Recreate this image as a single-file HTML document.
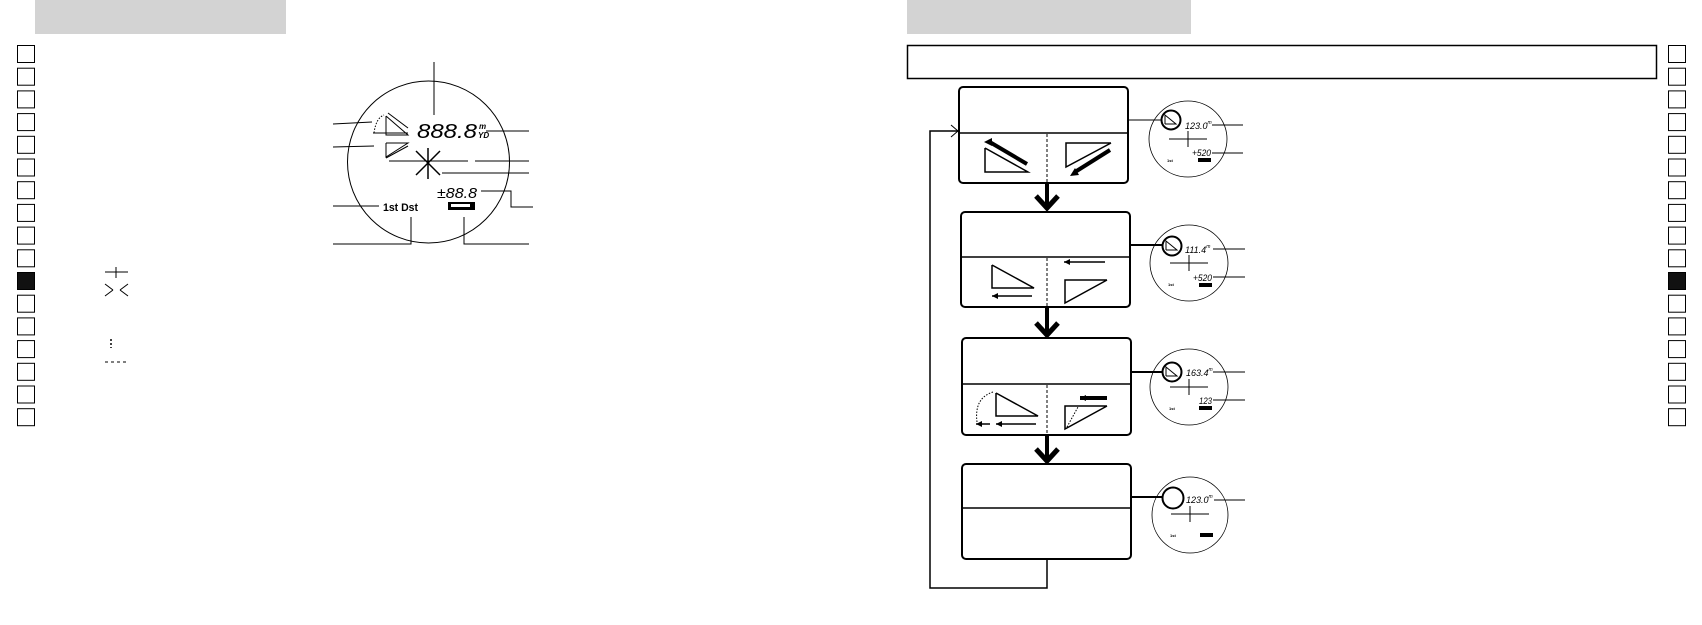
<!DOCTYPE html>
<html><head><meta charset="utf-8"><style>
html,body{margin:0;padding:0;background:#fff;}
body{width:1702px;height:625px;position:relative;overflow:hidden;font-family:"Liberation Sans",sans-serif;}
svg{position:absolute;left:0;top:0;}
.lcd{font-family:"Liberation Sans",sans-serif;font-style:italic;}
</style></head><body>
<svg width="1702" height="625" viewBox="0 0 1702 625" xmlns="http://www.w3.org/2000/svg">
<rect x="35" y="0" width="251" height="34" fill="#d3d3d3"/>
<rect x="907" y="0" width="284" height="34" fill="#d3d3d3"/>
<g fill="none" stroke="#000" stroke-width="1">
<rect x="17.5" y="45.5" width="17" height="17"/><rect x="17.5" y="68.2" width="17" height="17"/><rect x="17.5" y="90.9" width="17" height="17"/><rect x="17.5" y="113.6" width="17" height="17"/><rect x="17.5" y="136.3" width="17" height="17"/><rect x="17.5" y="159" width="17" height="17"/><rect x="17.5" y="181.7" width="17" height="17"/><rect x="17.5" y="204.4" width="17" height="17"/><rect x="17.5" y="227.1" width="17" height="17"/><rect x="17.5" y="249.8" width="17" height="17"/><rect x="17.5" y="272.5" width="17" height="17" fill="#111"/><rect x="17.5" y="295.2" width="17" height="17"/><rect x="17.5" y="317.9" width="17" height="17"/><rect x="17.5" y="340.6" width="17" height="17"/><rect x="17.5" y="363.3" width="17" height="17"/><rect x="17.5" y="386" width="17" height="17"/><rect x="17.5" y="408.7" width="17" height="17"/>
<rect x="1668.5" y="45.5" width="17" height="17"/><rect x="1668.5" y="68.2" width="17" height="17"/><rect x="1668.5" y="90.9" width="17" height="17"/><rect x="1668.5" y="113.6" width="17" height="17"/><rect x="1668.5" y="136.3" width="17" height="17"/><rect x="1668.5" y="159" width="17" height="17"/><rect x="1668.5" y="181.7" width="17" height="17"/><rect x="1668.5" y="204.4" width="17" height="17"/><rect x="1668.5" y="227.1" width="17" height="17"/><rect x="1668.5" y="249.8" width="17" height="17"/><rect x="1668.5" y="272.5" width="17" height="17" fill="#111"/><rect x="1668.5" y="295.2" width="17" height="17"/><rect x="1668.5" y="317.9" width="17" height="17"/><rect x="1668.5" y="340.6" width="17" height="17"/><rect x="1668.5" y="363.3" width="17" height="17"/><rect x="1668.5" y="386" width="17" height="17"/><rect x="1668.5" y="408.7" width="17" height="17"/>
</g>
<g fill="none" stroke="#000" stroke-width="1">
<circle cx="428.5" cy="162" r="81"/>
<line x1="434" y1="62" x2="434" y2="115"/>
<line x1="486" y1="131" x2="529" y2="131"/>
<line x1="475" y1="161" x2="529" y2="161"/>
<line x1="442" y1="173" x2="529" y2="173"/>
<polyline points="481,191 511,191 511,207 533,207"/>
<polyline points="464,217 464,244 529,244"/>
<line x1="333" y1="206" x2="379" y2="206"/>
<polyline points="411,217 411,244 333,244"/>
<line x1="333" y1="124" x2="372" y2="122"/>
<line x1="333" y1="147" x2="374" y2="146"/>
<line x1="389" y1="161" x2="468" y2="161"/>
<g stroke-width="1.5">
<line x1="428" y1="148" x2="428" y2="179"/>
<line x1="416" y1="151" x2="440" y2="175"/>
<line x1="440" y1="151" x2="416" y2="175"/>
</g>
<polyline points="386,116 386,135 408,135 386,116"/>
<polyline points="386,143 386,157 408,143 386,143"/>
<line x1="388" y1="113" x2="408" y2="128"/>
<line x1="386" y1="158" x2="408" y2="146"/>
<path d="M374,133 Q376,118 384,115" stroke-dasharray="1.5,1.5"/>
<line x1="373" y1="133" x2="408" y2="133"/>
<line x1="105" y1="272" x2="128" y2="272"/><line x1="116" y1="267" x2="116" y2="278"/>
<line x1="105" y1="284" x2="113" y2="290"/><line x1="105" y1="296" x2="113" y2="290"/>
<line x1="128" y1="284" x2="120" y2="290"/><line x1="128" y1="296" x2="120" y2="290"/>
<line x1="111" y1="339" x2="111" y2="348" stroke-dasharray="2,2" stroke-width="1.5"/>
<line x1="105" y1="362" x2="129" y2="362" stroke-dasharray="3,3"/>
</g>
<text x="417" y="138" font-size="20" class="lcd" textLength="60" lengthAdjust="spacingAndGlyphs">888.8</text>
<text x="479" y="129" font-size="8" font-weight="bold" font-style="italic">m</text>
<text x="478" y="138" font-size="8" font-weight="bold" font-style="italic">YD</text>
<text x="437" y="198" font-size="15" class="lcd" textLength="40" lengthAdjust="spacingAndGlyphs">±88.8</text>
<rect x="448" y="202" width="27" height="8" fill="#000"/><rect x="451" y="204" width="19" height="3" fill="#fff"/>
<text x="383" y="211" font-size="11" font-weight="bold" textLength="35" lengthAdjust="spacingAndGlyphs">1st Dst</text>
<rect x="907.5" y="45.5" width="749" height="33" fill="none" stroke="#000" stroke-width="1.5"/>
<g fill="none" stroke="#000" stroke-width="2">
<rect x="959" y="87" width="169" height="96" rx="4"/><line x1="959" y1="133" x2="1128" y2="133" stroke-width="1.5"/>
<rect x="961" y="212" width="169" height="95" rx="4"/><line x1="961" y1="257" x2="1130" y2="257" stroke-width="1.5"/>
<rect x="962" y="338" width="169" height="97" rx="4"/><line x1="962" y1="384" x2="1131" y2="384" stroke-width="1.5"/>
<rect x="962" y="464" width="169" height="95" rx="4"/><line x1="962" y1="508" x2="1131" y2="508" stroke-width="1.5"/>
</g>
<g stroke="#000" stroke-width="1" stroke-dasharray="3,2">
<line x1="1047" y1="134" x2="1047" y2="182"/><line x1="1047" y1="258" x2="1047" y2="306"/><line x1="1047" y1="385" x2="1047" y2="434"/>
</g>
<g stroke="#000" fill="none">
<line x1="1047" y1="183" x2="1047" y2="208" stroke-width="4"/><polyline points="1036,196 1047,208 1058,196" stroke-width="5"/>
<line x1="1047" y1="307" x2="1047" y2="335" stroke-width="4"/><polyline points="1036,323 1047,335 1058,323" stroke-width="5"/>
<line x1="1047" y1="435" x2="1047" y2="461" stroke-width="4"/><polyline points="1036,449 1047,461 1058,449" stroke-width="5"/>
<polyline points="1047,559 1047,588 930,588 930,131 958,131" stroke-width="1.5"/>
<polyline points="951,125 958,131 951,137" stroke-width="1"/>
<g stroke-width="1.5">
<polyline points="985,148 985,172 1028,172 985,148"/>
<polyline points="1111,143 1066,143 1066,167 1111,143"/>
<polyline points="992,265 992,288 1034,288 992,265"/>
<line x1="992" y1="296" x2="1032" y2="296"/>
<line x1="1064" y1="262" x2="1105" y2="262"/>
<polyline points="1107,280 1065,280 1065,303 1107,280"/>
<polyline points="996,393 996,416 1038,416 996,393"/>
<line x1="996" y1="424" x2="1036" y2="424"/><line x1="976" y1="424" x2="990" y2="424"/>
<polyline points="1107,406 1065,406 1065,429 1107,406"/>
</g>
<line x1="988" y1="141" x2="1027" y2="164" stroke-width="4"/>
<line x1="1110" y1="150" x2="1075" y2="172" stroke-width="4"/>
<line x1="1080" y1="398" x2="1107" y2="398" stroke-width="4"/>
<path d="M977,422 Q974,398 993,392" stroke-dasharray="1.5,1.5" stroke-width="1"/>
<line x1="1067" y1="427" x2="1078" y2="407" stroke-dasharray="1.5,1.5" stroke-width="1"/>
</g>
<g fill="#000">
<polygon points="984,142 992,138 992,146"/>
<polygon points="1070,176 1075,168 1079,175"/>
<polygon points="992,296 998,293 998,299"/>
<polygon points="1064,262 1070,259 1070,265"/>
<polygon points="996,424 1002,421 1002,427"/>
<polygon points="976,424 982,421 982,427"/>
<polygon points="1080,398 1086,395 1086,401"/>
</g>
<g fill="none" stroke="#000">
<g stroke-width="0.8"><ellipse cx="1188" cy="139" rx="39" ry="38"/><ellipse cx="1189" cy="263" rx="39" ry="38"/><ellipse cx="1189" cy="387" rx="39" ry="38"/><ellipse cx="1190" cy="515" rx="38" ry="38"/></g>
<g stroke-width="2">
<circle cx="1171" cy="120" r="9.5"/><circle cx="1172" cy="246" r="9.5"/><circle cx="1172" cy="372" r="9.5"/><circle cx="1173" cy="498" r="10.5"/>
<line x1="1128" y1="120" x2="1161" y2="120" stroke-width="1"/>
<line x1="1130" y1="245" x2="1162" y2="245"/>
<line x1="1131" y1="372" x2="1162" y2="372"/>
<line x1="1131" y1="497" x2="1162" y2="497"/>
</g>
<g stroke-width="1">
<line x1="1212" y1="125" x2="1243" y2="125"/><line x1="1212" y1="153" x2="1243" y2="153"/>
<line x1="1213" y1="249" x2="1245" y2="249"/><line x1="1213" y1="277" x2="1245" y2="277"/>
<line x1="1213" y1="372" x2="1245" y2="372"/><line x1="1213" y1="400" x2="1245" y2="400"/>
<line x1="1214" y1="500" x2="1245" y2="500"/>
<line x1="1169" y1="139" x2="1207" y2="139"/><line x1="1188" y1="131" x2="1188" y2="147"/>
<line x1="1170" y1="263" x2="1208" y2="263"/><line x1="1189" y1="255" x2="1189" y2="271"/>
<line x1="1170" y1="387" x2="1208" y2="387"/><line x1="1189" y1="379" x2="1189" y2="395"/>
<line x1="1171" y1="514" x2="1209" y2="514"/><line x1="1190" y1="506" x2="1190" y2="522"/>
<polyline points="1165,124 1165,115 1176,124 1165,124"/>
<polyline points="1166,250 1166,241 1177,250 1166,250"/>
<polyline points="1166,376 1166,367 1177,376 1166,376"/>
</g>
</g>
<g font-size="9" class="lcd">
<text x="1185" y="129">123.0<tspan font-size="5" dy="-5">m</tspan></text>
<text x="1185" y="253">111.4<tspan font-size="5" dy="-5">m</tspan></text>
<text x="1186" y="376">163.4<tspan font-size="5" dy="-5">m</tspan></text>
<text x="1186" y="503">123.0<tspan font-size="5" dy="-5">m</tspan></text>
<text x="1192" y="156" textLength="19" lengthAdjust="spacingAndGlyphs">+520</text>
<text x="1193" y="281" textLength="19" lengthAdjust="spacingAndGlyphs">+520</text>
<text x="1199" y="404" textLength="13" lengthAdjust="spacingAndGlyphs">123</text>
</g>
<g font-size="4" font-weight="bold">
<text x="1167" y="162">1st</text><text x="1168" y="286">1st</text><text x="1169" y="410">1st</text><text x="1170" y="537">1st</text>
</g>
<g fill="#000"><rect x="1198" y="158" width="13" height="4"/><rect x="1199" y="283" width="13" height="4"/><rect x="1199" y="406" width="13" height="4"/><rect x="1200" y="533" width="13" height="4"/></g>
</svg>
</body></html>
